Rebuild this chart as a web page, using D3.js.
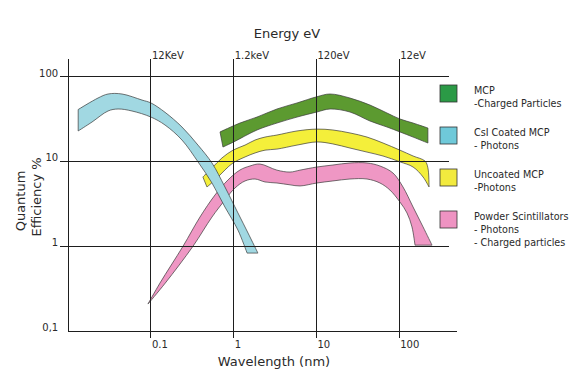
<!DOCTYPE html>
<html>
<head>
<meta charset="utf-8">
<script src="https://cdn.jsdelivr.net/npm/d3@7/dist/d3.min.js"></script>
<style>
  body { margin: 0; background: #fff; }
  svg text { font-family: "DejaVu Sans", sans-serif; fill: #2a2a2a; }
</style>
</head>
<body>
<div id="chart"></div>
<script>
// wavelength (nm) / quantum efficiency (%) outlines of each band
var csiTop = [[0.0132,41],[0.0229,56],[0.0303,62.5],[0.0447,62.5],[0.078,53],[0.1,49],[0.148,38],[0.237,25.5],[0.37,15.6],[0.546,9.6],[0.783,5.0],[1.125,2.47],[1.49,1.43],[1.96,0.83]];
var csiBottom = [[0.0132,22.9],[0.0194,29.2],[0.0303,39.4],[0.04,41.6],[0.059,39.4],[0.1,33.4],[0.148,26.9],[0.237,17.9],[0.37,9.9],[0.546,5.57],[0.783,2.9],[1.125,1.55],[1.45,0.83]];

var mcpTop = [[0.683,22.3],[1.19,28.4],[1.91,33.4],[3.33,41.6],[5.82,49],[10.1,58],[14.6,62.5],[25.4,56],[44.3,46.3],[71.1,37.3],[102,31.7],[147,28.4],[222,24.8]];
var mcpBottom = [[0.741,14.8],[1.0,17],[1.91,23.5],[3.33,28.4],[5.82,33.4],[10.1,38.3],[14.6,41.6],[25.4,38.3],[44.3,30],[71.1,25.5],[102,22.3],[147,19.4],[222,16.5]];

var uncoatedTop = [[0.424,6.56],[0.546,8.38],[0.721,11.0],[0.98,13.6],[1.37,15.6],[1.81,17.9],[2.39,19.4],[3.33,20.5],[5.82,22.9],[10.1,24.1],[15.8,23.5],[25.4,21.7],[40.8,19.4],[63.7,16.5],[102,13.6],[147,11.6],[205,10.1],[222,8.4],[229,5.0]];
var uncoatedBottom = [[0.475,5.0],[0.594,6.04],[0.783,7.93],[0.98,9.6],[1.37,11.3],[1.81,12.6],[2.39,13.6],[3.33,14.0],[5.82,15.6],[10.1,17.0],[15.8,16.1],[25.4,14.4],[40.8,12.9],[63.7,11.6],[102,9.9],[147,8.6],[194,6.56],[229,5.0]];

var powderTop = [[0.092,0.208],[0.1285,0.368],[0.244,1.0],[0.391,2.21],[0.594,4.02],[0.851,6.04],[1.19,7.93],[1.57,8.84],[2.07,9.33],[3.33,7.9],[4.79,7.5],[6.32,7.9],[10.1,8.6],[15.8,9.08],[25.4,9.6],[40.8,9.6],[58.5,8.84],[84,7.31],[111,5.0],[147,2.9],[194,1.69],[249,1.03]];
var powderBottom = [[0.092,0.208],[0.149,0.368],[0.322,1.0],[0.546,2.21],[0.783,3.51],[1.035,4.86],[1.37,5.89],[1.81,6.21],[2.39,5.73],[3.33,5.57],[4.79,5.3],[6.32,5.14],[10.1,5.57],[15.8,5.89],[25.4,6.21],[40.8,6.21],[58.5,5.57],[77.2,4.6],[102,3.32],[124,2.47],[142.5,1.69],[155,1.03]];

var wavelengthTicks = [0.1, 1, 10, 100];
var wavelengthLabels = ["0.1", "1", "10", "100"];
var energyLabels = ["12KeV", "1.2keV", "120eV", "12eV"];
var qeTicks = [0.1, 1, 10, 100];
var qeLabels = ["0,1", "1", "10", "100"];

var legendNames = [["MCP", "-Charged Particles"], ["CsI Coated MCP", "- Photons"], ["Uncoated MCP", "-Photons"], ["Powder Scintillators", "- Photons", "- Charged particles"]];
var legendColors = ["#2b9a46", "#6fc9d9", "#f2ea3e", "#ee93c2"];

var W = 585, H = 378;
var svg = d3.select("#chart").append("svg").attr("width", W).attr("height", H);

var x = d3.scaleLog().domain([0.01, 1000]).range([68.2, 482]);
var y = d3.scaleLog().domain([0.1, 100]).range([331, 76.7]);

var line = d3.line()
    .x(function(d){ return x(d[0]); })
    .y(function(d){ return y(d[1]); })
    .curve(d3.curveCatmullRom.alpha(0.5));

function bandPath(top, bottom) {
    var a = line(top);
    var b = line(bottom.slice().reverse());
    return a + "L" + b.slice(1) + "Z";
}

// bands (cyan is drawn last, over the others)
var bands = [
    {top: powderTop, bottom: powderBottom, fill: "#ef97c4"},
    {top: uncoatedTop, bottom: uncoatedBottom, fill: "#f4ef3a"},
    {top: mcpTop, bottom: mcpBottom, fill: "#5c9a30"},
    {top: csiTop, bottom: csiBottom, fill: "#a1d8e2"}
];
svg.append("g").selectAll("path")
    .data(bands).enter().append("path")
    .attr("d", function(d){ return bandPath(d.top, d.bottom); })
    .attr("fill", function(d){ return d.fill; })
    .attr("stroke", "#3a3a3a")
    .attr("stroke-width", 0.7)
    .attr("stroke-linejoin", "round");

// grid
var grid = svg.append("g").attr("stroke", "#1e1e1e").attr("stroke-width", 1).attr("shape-rendering", "crispEdges");
grid.selectAll(".h").data([1, 10, 100]).enter().append("line")
    .attr("x1", x(0.01) - 8).attr("x2", x(400))
    .attr("y1", function(d){ return y(d); }).attr("y2", function(d){ return y(d); });
grid.append("line")   // bottom axis
    .attr("x1", x(0.01)).attr("x2", x(500))
    .attr("y1", y(0.1)).attr("y2", y(0.1));
grid.append("line")   // left axis
    .attr("x1", x(0.01)).attr("x2", x(0.01))
    .attr("y1", y(160)).attr("y2", y(0.1));
grid.selectAll(".v").data(wavelengthTicks).enter().append("line")
    .attr("x1", function(d){ return x(d); }).attr("x2", function(d){ return x(d); })
    .attr("y1", y(160)).attr("y2", y(0.1) + 7);

// tick labels
svg.selectAll(".ylab").data(qeTicks).enter().append("text")
    .attr("x", x(0.01) - 10).attr("y", function(d){ return y(d); })
    .attr("text-anchor", "end").attr("font-size", 10)
    .text(function(d, i){ return qeLabels[i]; });
svg.selectAll(".xlab").data(wavelengthTicks).enter().append("text")
    .attr("x", function(d){ return x(d) + 1; }).attr("y", y(0.1) + 17)
    .attr("font-size", 10)
    .text(function(d, i){ return wavelengthLabels[i]; });
svg.selectAll(".elab").data(wavelengthTicks).enter().append("text")
    .attr("x", function(d){ return x(d) + 1; }).attr("y", y(160))
    .attr("font-size", 10)
    .text(function(d, i){ return energyLabels[i]; });

// titles
svg.append("text").attr("x", 287).attr("y", 38).attr("text-anchor", "middle")
    .attr("font-size", 13).text("Energy eV");
svg.append("text").attr("x", 274).attr("y", 366).attr("text-anchor", "middle")
    .attr("font-size", 13).text("Wavelength (nm)");
svg.append("text").attr("transform", "translate(25,201) rotate(-90)").attr("text-anchor", "middle")
    .attr("font-size", 13).text("Quantum");
svg.append("text").attr("transform", "translate(41,197) rotate(-90)").attr("text-anchor", "middle")
    .attr("font-size", 13).text("Efficiency %");

// legend
var legend = svg.append("g").selectAll("g").data(legendNames).enter().append("g")
    .attr("transform", function(d, i){ return "translate(440," + (85 + i * 42) + ")"; });
legend.append("rect").attr("width", 17).attr("height", 17)
    .attr("fill", function(d, i){ return legendColors[i]; })
    .attr("stroke", "#333").attr("stroke-width", 0.8);
legend.selectAll("text").data(function(d){ return d; }).enter().append("text")
    .attr("x", 34).attr("y", function(d, j){ return 9 + j * 13; })
    .attr("font-size", 9.6)
    .text(function(d){ return d; });
</script>
</body>
</html>
